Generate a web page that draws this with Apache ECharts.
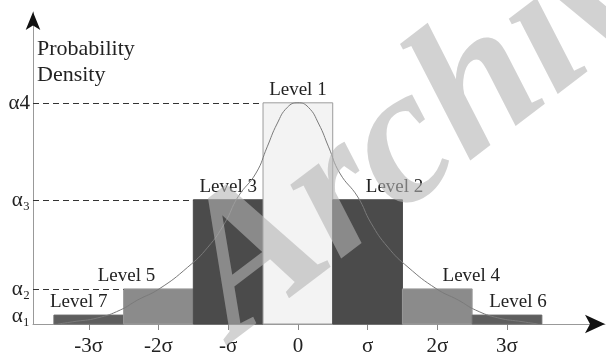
<!DOCTYPE html>
<html>
<head>
<meta charset="utf-8">
<script src="https://cdn.jsdelivr.net/npm/echarts@6/dist/echarts.min.js"></script>
<style>
  html, body { margin: 0; padding: 0; background: #fff; }
  #chart { width: 606px; height: 358px; }
</style>
</head>
<body>
<div id="chart"></div>
<script>
// Quantisation levels: bar centre (in units of sigma) and density level
const levelNames = ['Level 7', 'Level 5', 'Level 3', 'Level 1', 'Level 2', 'Level 4', 'Level 6'];
const levelCenters = [-3, -2, -1, 0, 1, 2, 3];
const levelHeights = [0.016, 0.063, 0.223, 0.397, 0.223, 0.063, 0.016];

// Density levels marked on the vertical axis
const alphaValues = [0.016, 0.063, 0.223, 0.397];
const alphaLabels = ['α₁', 'α₂', 'α₃', 'α4'];

// Horizontal axis ticks
const tickValues = [-3, -2, -1, 0, 1, 2, 3];
const tickLabels = ['-3σ', '-2σ', '-σ', '0', 'σ', '2σ', '3σ'];

// Probability density curve samples
const curveX = [-3.44, -3.23, -2.87, -2.55, -2.30, -1.99, -1.58, -1.29, -1.05, -0.86, -0.60, -0.44, -0.30, -0.15, 0,
                0.15, 0.30, 0.44, 0.60, 0.86, 1.05, 1.29, 1.58, 1.99, 2.30, 2.55, 2.87, 3.23, 3.44];
const curveY = [0, 0.004, 0.011, 0.025, 0.043, 0.063, 0.102, 0.138, 0.181, 0.228, 0.271, 0.318, 0.359, 0.389, 0.397,
                0.389, 0.359, 0.318, 0.271, 0.228, 0.181, 0.138, 0.102, 0.063, 0.043, 0.025, 0.011, 0.004, 0];

// Styling
const serif = 'Liberation Serif';
const levelFill = ['#5e5e5e', '#8b8b8b', '#4b4b4b', '#f3f3f3', '#4b4b4b', '#8b8b8b', '#5e5e5e'];
const levelStroke = ['#6a6a6a', '#9a9a9a', '#4b4b4b', '#9c9c9c', '#4b4b4b', '#9a9a9a', '#6a6a6a'];
const labelShift = [-10, -32, 0, 0, 27, 34, 11];
const xMin = -3.8, xMax = 4.406;
const yMax = 0.56;

// Dashed guides from the vertical axis to the first bar at each level
const guides = alphaValues.slice(1).map(a => {
  const i = levelHeights.indexOf(a);
  return [{ coord: [xMin, a] }, { coord: [levelCenters[i] - 0.5, a] }];
});

// Text label drawn at a data position (font given as a full CSS font string)
function labelAt(text, p, dx, dy, align, vAlign, size) {
  return {
    type: 'text', x: p[0] + dx, y: p[1] + dy,
    style: { text: text, font: size + 'px ' + serif, fill: '#222', align: align, verticalAlign: vAlign }
  };
}

const chart = echarts.init(document.getElementById('chart'));
chart.setOption({
  animation: false,
  grid: { left: 33, right: 1, top: 12, bottom: 34, containLabel: false, outerBoundsMode: 'none' },
  xAxis: [{
    type: 'value', min: xMin, max: xMax,
    splitLine: { show: false },
    axisLine: { onZero: false, lineStyle: { color: '#999', width: 1 } },
    axisTick: { customValues: tickValues, length: 6, lineStyle: { color: '#888' } },
    axisLabel: { show: false }
  }, {
    type: 'value', min: xMin, max: xMax, position: 'bottom',
    splitLine: { show: false }, axisTick: { show: false }, axisLabel: { show: false },
    axisLine: { onZero: false, symbol: ['none', 'arrow'], symbolSize: [14, 20],
      lineStyle: { color: '#111', opacity: 0 } }
  }],
  yAxis: [{
    type: 'value', min: 0, max: yMax, position: 'left',
    splitLine: { show: false },
    axisLine: { onZero: false, lineStyle: { color: '#999', width: 1 } },
    axisTick: { show: false },
    axisLabel: { show: false }
  }, {
    type: 'value', min: 0, max: yMax, position: 'left',
    splitLine: { show: false }, axisTick: { show: false }, axisLabel: { show: false },
    axisLine: { onZero: false, symbol: ['none', 'arrow'], symbolSize: [11, 18],
      lineStyle: { color: '#111', opacity: 0 } }
  }],
  series: [{
    type: 'custom',
    name: 'levels',
    data: levelCenters.map((c, i) => [c, levelHeights[i]]),
    z: 2,
    renderItem: (params, api) => {
      const i = params.dataIndex;
      const c = api.value(0), h = api.value(1);
      const p0 = api.coord([c - 0.5, h]);
      const p1 = api.coord([c + 0.5, 0]);
      return {
        type: 'rect',
        shape: { x: p0[0], y: p0[1], width: p1[0] - p0[0], height: p1[1] - p0[1] },
        style: { fill: levelFill[i], stroke: levelStroke[i], lineWidth: 1 },
        textContent: { style: { text: levelNames[i], font: '19px ' + serif, fill: '#222' } },
        textConfig: { position: 'top', distance: 3, offset: [labelShift[i], 0] }
      };
    }
  }, {
    type: 'line',
    name: 'density',
    data: curveX.map((x, i) => [x, curveY[i]]),
    smooth: true,
    symbol: 'none',
    z: 3,
    lineStyle: { color: '#7a7a7a', width: 1 }
  }, {
    type: 'line',
    name: 'guides',
    data: [],
    z: 4,
    markLine: {
      silent: true, symbol: ['none', 'none'], label: { show: false },
      lineStyle: { type: [6, 4], color: '#333', width: 1 },
      data: guides
    }
  }, {
    // sigma tick labels under the horizontal axis
    type: 'custom',
    name: 'xLabels',
    clip: false,
    z: 5,
    data: tickValues.map(v => [v, 0]),
    renderItem: (params, api) =>
      labelAt(tickLabels[params.dataIndex], api.coord([api.value(0), 0]), 0, 12, 'center', 'top', 21)
  }, {
    // density level labels beside the vertical axis
    type: 'custom',
    name: 'yLabels',
    clip: false,
    z: 5,
    data: alphaValues.map(a => [xMin, a]),
    renderItem: (params, api) =>
      labelAt(alphaLabels[params.dataIndex], api.coord([xMin, api.value(1)]), -3, 1, 'right', 'middle', 21)
  }],
  graphic: [{
    type: 'text',
    left: 37, top: 36,
    silent: true,
    style: { text: 'Probability\nDensity', font: '22px ' + serif, lineHeight: 26, fill: '#222' }
  }, {
    type: 'text',
    x: 145, y: 222,
    rotation: 0.65,
    z: 100,
    silent: true,
    style: {
      text: 'Archive',
      font: 'italic bold 195px ' + serif,
      fill: 'rgba(180,180,180,0.6)',
      verticalAlign: 'top'
    }
  }]
});
</script>
</body>
</html>
